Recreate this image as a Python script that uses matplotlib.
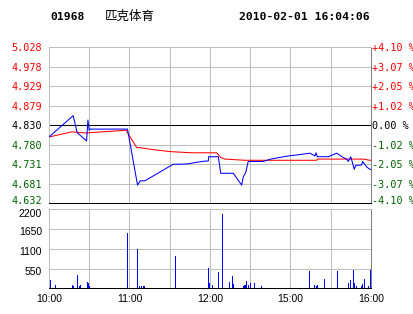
import matplotlib
matplotlib.use("Agg")
import matplotlib.pyplot as plt
from matplotlib.transforms import ScaledTranslation

### intraday data for 01968, trading minutes from 10:00 (morning 10:00-12:30, afternoon 14:30-16:00)
prev_close = 4.830

price_min = [0, 18, 21, 28, 29, 30, 30.5, 58.5, 66, 68, 71.5, 92.6, 98, 103.8, 110, 116.3, 118.7,
             119, 126.2, 128, 137.4, 143.6, 144.8, 146.6, 148.5, 159.7, 165.2, 170, 178.3, 186, 194.5,
             198.3, 199, 200, 208.2, 214.4, 219.3, 221.9, 223.1, 224.9, 226, 227.5, 228.6, 233, 233.8,
             236.8, 239.2, 240]
price = [4.800, 4.854, 4.811, 4.790, 4.843, 4.817, 4.820, 4.820, 4.678, 4.689, 4.689, 4.731, 4.731,
         4.732, 4.736, 4.739, 4.739, 4.750, 4.750, 4.708, 4.708, 4.678, 4.699, 4.710, 4.738, 4.738,
         4.744, 4.747, 4.752, 4.755, 4.759, 4.752, 4.760, 4.750, 4.750, 4.759, 4.748, 4.744, 4.738,
         4.750, 4.737, 4.718, 4.728, 4.729, 4.738, 4.724, 4.718, 4.718]

avg_min = [0, 17, 28, 30.6, 57.4, 65.4, 67.8, 75.3, 90.2, 106.4, 125, 128, 131.2, 146.1, 199.5, 200,
           234.3, 239.2, 240]
avg_price = [4.800, 4.813, 4.810, 4.811, 4.817, 4.773, 4.773, 4.769, 4.763, 4.760, 4.760, 4.748,
             4.744, 4.741, 4.741, 4.744, 4.744, 4.741, 4.741]

vol_min = [0.7, 4.5, 17.4, 18.1, 21.1, 22.4, 23.3, 28.5, 29.3, 30, 58.4, 65.8, 67.3, 68.6, 69.8, 70.6,
           94.1, 118.7, 119.5, 121.7, 126.2, 128.7, 129.2, 134.4, 136.6, 137.4, 144.4, 145.6, 146.3,
           147, 148.5, 149.8, 153, 158.2, 194, 197.7, 199, 200, 205.2, 214.9, 223.1, 224.6, 226.8,
           227.5, 229, 232.8, 233.5, 235, 238, 239, 239.5]
volume = [231, 92, 92, 64, 370, 64, 92, 175, 139, 72, 1549, 1095, 64, 64, 64, 64,
          900, 557, 156, 92, 462, 2069, 156, 175, 343, 120, 64, 92, 92,
          203, 92, 148, 148, 64, 482, 92, 64, 92, 259, 482, 148, 231, 510,
          148, 64, 64, 120, 259, 64, 510, 64]

price_ticks = [5.028, 4.978, 4.929, 4.879, 4.830, 4.780, 4.731, 4.681, 4.632]
price_labels = ['5.028', '4.978', '4.929', '4.879', '4.830', '4.780', '4.731', '4.681', '4.632']
pct_labels = ['+4.10 %', '+3.07 %', '+2.05 %', '+1.02 %', '0.00 %', '-1.02 %', '-2.05 %', '-3.07 %', '-4.10 %']
vol_ticks = [550, 1100, 1650, 2200]
time_ticks = [0, 60, 120, 180, 240]
time_labels = ['10:00', '11:00', '12:00', '15:00', '16:00']

RED = '#ff0000'
GREEN = '#006400'
GRID = '#c0c0c0'
EDGE = '#808080'
LW = 0.75

W, H = 414, 314
fig = plt.figure(figsize=(W / 100, H / 100), dpi=100)
fig.patch.set_facecolor('white')


def fbox(x0, y0, x1, y1):
    # pixel box -> figure rect
    return [x0 / W, 1 - y1 / H, (x1 - x0) / W, (y1 - y0) / H]


def lab_color(i):
    if i < 4:
        return RED
    if i == 4:
        return 'black'
    return GREEN


def nudge(label, dy_px):
    # shift a tick label up (+) or down (-) by some pixels
    label.set_transform(label.get_transform() + ScaledTranslation(0, dy_px / 100, fig.dpi_scale_trans))


### price panel
ax = fig.add_axes(fbox(49, 47, 371, 203.3))
lo, hi = price_ticks[-1], price_ticks[0]
ax.set_xlim(0, 240)
ax.set_ylim(lo, hi)
for t in [30, 60, 90, 120, 150, 180, 210]:
    ax.axvline(t, color=GRID, lw=LW, zorder=1)
for p in price_ticks[1:-1]:
    ax.axhline(p, color='black' if p == prev_close else GRID, lw=LW, zorder=1)
ax.plot(price_min, price, color='#0000ff', lw=LW, zorder=3)
ax.plot(avg_min, avg_price, color=RED, lw=LW, zorder=2)

for s in ['left', 'top']:
    ax.spines[s].set_color(GRID)
ax.spines['right'].set_color(EDGE)
ax.spines['bottom'].set_color('black')
for s in ax.spines.values():
    s.set_linewidth(LW)
ax.set_xticks([])
ax.set_yticks(price_ticks)
ax.set_yticklabels(price_labels, family='DejaVu Sans Mono', fontsize=7.3)
ax.tick_params(axis='y', length=0, pad=5)
for i, tl in enumerate(ax.get_yticklabels()):
    tl.set_color(lab_color(i))
nudge(ax.get_yticklabels()[-1], 3.5)

ax2 = ax.twinx()
ax2.set_ylim(lo, hi)
ax2.set_yticks(price_ticks)
ax2.set_yticklabels(pct_labels, family='DejaVu Sans Mono', fontsize=7.3)
ax2.tick_params(axis='y', length=0, pad=1)
for i, tl in enumerate(ax2.get_yticklabels()):
    tl.set_color(lab_color(i))
nudge(ax2.get_yticklabels()[-1], 3.5)
for s in ax2.spines.values():
    s.set_visible(False)

### volume panel
vx = fig.add_axes(fbox(49, 209.3, 371, 288.3))
vx.set_xlim(0, 240)
vx.set_ylim(0, 2200)
for t in [30, 60, 90, 120, 150, 180, 210]:
    vx.axvline(t, color=GRID, lw=LW, zorder=1)
for v in vol_ticks[:-1]:
    vx.axhline(v, color=GRID, lw=LW, zorder=1)
vx.vlines(vol_min, 0, volume, color='#0000ff', lw=0.72, antialiased=False, zorder=3)
for s in ['left', 'top']:
    vx.spines[s].set_color(GRID)
vx.spines['right'].set_color(EDGE)
vx.spines['bottom'].set_color('black')
for s in vx.spines.values():
    s.set_linewidth(LW)
vx.set_yticks(vol_ticks)
vx.set_yticklabels([str(v) for v in vol_ticks], family='Liberation Sans', fontsize=7.5)
vx.set_xticks(time_ticks)
vx.set_xticklabels(time_labels, family='Liberation Sans', fontsize=7.5)
vx.tick_params(length=0, pad=4)
vx.tick_params(axis='y', pad=5)
for tl in vx.get_yticklabels()[:-1]:
    nudge(tl, -2)
nudge(vx.get_yticklabels()[-1], -3.5)

### title
fig.text(50 / W, 1 - 17 / H, '01968', family='DejaVu Sans Mono', weight='bold', fontsize=8.2,
         va='center', ha='left')
fig.text(105 / W, 1 - 16 / H, '匹克体育', family=['Noto Sans CJK SC', 'DejaVu Sans'], fontsize=9,
         va='center', ha='left')
fig.text(370 / W, 1 - 17 / H, '2010-02-01 16:04:06', family='DejaVu Sans Mono', weight='bold',
         fontsize=8.2, va='center', ha='right')

fig.savefig('out.png', dpi=100)
